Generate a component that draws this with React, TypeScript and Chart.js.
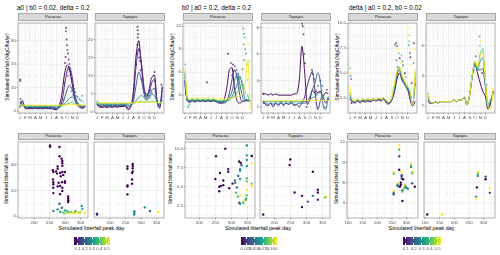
import React, { useEffect, useRef } from "react";
import { Chart, registerables } from "chart.js";
Chart.register(...registerables);

// ---------------- shared axes ----------------
const DAYS = [1, 15, 32, 46, 60, 74, 91, 105, 121, 135, 152, 166, 182, 196, 213, 227, 244, 258, 274, 288, 305, 319, 335, 349, 365, 380];
const MONTH_DAYS = [1, 32, 60, 91, 121, 152, 182, 213, 244, 274, 305, 335];
const MONTH_LABELS = ["J", "F", "M", "A", "M", "J", "J", "A", "S", "O", "N", "D"];
const FACETS = ["Paracou", "Tapajos"];
const TITLES = ["a0 | b0 = 0.02, delta = 0.2", "b0 | a0 = 0.2, delta = 0.2", "delta | a0 = 0.2, b0 = 0.02"];
const Y_TITLE_TOP = "Simulated litterfall (MgC/ha/yr)";
const Y_TITLE_BOT = "Simulated litterfall ratio";
const X_TITLE_BOT = "Simulated litterfall peak day";

// ---------------- panel 1 : a0 ----------------
const P1_LINE_PARAMS = [0.1, 0.15, 0.2, 0.3, 0.4, 0.5];
const P1_PAR_LINES = [
  [1.6, 4.5, 1.2, 1.0, 1.1, 1.0, 1.2, 1.0, 1.1, 1.0, 1.2, 1.0, 1.1, 0.8, 0.6, 2.0, 7.0, 15.0, 19.5, 18.0, 11.0, 5.0, 2.5, 1.5, 1.2, 2.0],
  [1.8, 3.0, 1.4, 1.2, 1.3, 1.2, 1.3, 1.2, 1.3, 1.2, 1.3, 1.2, 1.3, 1.1, 1.0, 1.5, 4.0, 10.0, 17.0, 19.0, 14.0, 7.0, 3.5, 2.0, 1.5, 1.8],
  [2.0, 2.5, 1.6, 1.5, 1.6, 1.5, 1.6, 1.5, 1.6, 1.5, 1.6, 1.5, 1.6, 1.4, 1.3, 1.5, 2.5, 5.0, 9.0, 11.0, 9.0, 6.0, 3.5, 2.2, 1.8, 2.0],
  [2.2, 2.6, 2.0, 1.9, 2.0, 1.9, 2.0, 1.9, 2.0, 1.9, 2.0, 1.9, 2.0, 1.9, 1.8, 1.9, 2.2, 3.0, 4.2, 5.5, 6.0, 5.0, 3.5, 2.5, 2.2, 2.2],
  [2.4, 2.5, 2.3, 2.2, 2.3, 2.2, 2.3, 2.2, 2.3, 2.2, 2.3, 2.2, 2.3, 2.2, 2.2, 2.3, 2.4, 2.7, 3.0, 3.4, 3.6, 3.3, 2.9, 2.6, 2.4, 2.4],
  [2.6, 2.6, 2.5, 2.5, 2.5, 2.5, 2.5, 2.5, 2.5, 2.5, 2.5, 2.5, 2.5, 2.5, 2.5, 2.5, 2.6, 2.6, 2.7, 2.7, 2.8, 2.7, 2.6, 2.6, 2.6, 2.6],
];
const P1_TAP_LINES = [
  [2.0, 1.4, 1.2, 1.4, 1.2, 1.4, 1.3, 1.4, 1.3, 1.5, 1.5, 1.6, 0.6, 1.2, 6.0, 15.0, 19.5, 13.0, 6.0, 4.0, 6.5, 9.5, 10.0, 3.0, 1.0, 7.0],
  [2.1, 1.6, 1.4, 1.6, 1.4, 1.6, 1.5, 1.6, 1.5, 1.7, 1.7, 1.8, 1.0, 1.4, 4.5, 12.0, 17.5, 14.0, 7.0, 4.5, 5.5, 8.0, 9.0, 3.5, 1.5, 6.0],
  [2.2, 1.8, 1.7, 1.8, 1.7, 1.8, 1.7, 1.8, 1.7, 1.9, 1.9, 2.0, 1.5, 1.7, 3.0, 7.0, 11.0, 9.0, 5.0, 3.5, 4.5, 6.0, 6.5, 3.0, 1.8, 4.5],
  [2.3, 2.1, 2.0, 2.1, 2.0, 2.1, 2.0, 2.1, 2.0, 2.1, 2.1, 2.2, 1.9, 2.0, 2.4, 3.0, 4.0, 4.5, 4.0, 3.2, 3.8, 4.8, 4.5, 2.8, 2.2, 3.2],
  [2.4, 2.3, 2.2, 2.3, 2.2, 2.3, 2.2, 2.3, 2.2, 2.3, 2.3, 2.3, 2.2, 2.3, 2.4, 2.6, 2.8, 2.9, 2.8, 2.7, 2.8, 3.0, 2.9, 2.6, 2.4, 2.6],
  [2.6, 2.6, 2.5, 2.5, 2.5, 2.5, 2.5, 2.5, 2.5, 2.5, 2.5, 2.5, 2.5, 2.5, 2.5, 2.6, 2.6, 2.7, 2.7, 2.7, 2.7, 2.7, 2.7, 2.6, 2.6, 2.6],
];
const P1_PAR_POINTS: number[][] = [
  [3, 13.5, 0.1], [3, 12.8, 0.1], [4, 5.2, 0.2], [6, 4.0, 0.3], [8, 3.5, 0.15],
  [262, 20.5, 0.1], [266, 23.0, 0.1], [268, 35.5, 0.1], [268, 34.0, 0.15], [272, 30.5, 0.1],
  [274, 28.0, 0.1], [276, 26.0, 0.15], [280, 24.5, 0.1], [284, 22.0, 0.1], [288, 20.0, 0.15],
  [286, 18.0, 0.2], [292, 17.0, 0.1], [296, 15.5, 0.15], [300, 14.0, 0.1], [304, 12.5, 0.2],
  [310, 11.0, 0.15], [316, 9.5, 0.2], [322, 8.0, 0.2], [300, 8.5, 0.3], [310, 7.0, 0.3],
  [325, 6.5, 0.3], [335, 6.0, 0.25], [345, 5.0, 0.3], [355, 4.5, 0.35], [362, 6.5, 0.3],
  [368, 4.0, 0.4], [250, 5.0, 0.15], [280, 15.0, 0.2], [258, 12.0, 0.1], [200, 1.5, 0.3],
  [120, 2.2, 0.4], [60, 1.8, 0.3], [240, 3.0, 0.2],
];
const P1_TAP_POINTS: number[][] = [
  [236, 23.5, 0.1], [238, 22.5, 0.1], [240, 21.5, 0.1], [238, 20.5, 0.1], [242, 19.5, 0.15],
  [236, 18.5, 0.1], [244, 17.0, 0.15], [232, 16.0, 0.1], [246, 15.0, 0.1], [250, 14.0, 0.15],
  [228, 13.0, 0.1], [335, 11.0, 0.1], [332, 10.0, 0.15], [338, 8.5, 0.1], [375, 7.5, 0.1],
  [380, 6.5, 0.15], [310, 6.0, 0.3], [320, 5.2, 0.3], [290, 5.0, 0.3], [300, 4.5, 0.25],
  [345, 4.0, 0.3], [3, 2.8, 0.3], [5, 2.2, 0.1], [260, 9.0, 0.1], [255, 11.5, 0.1],
];
const P1_BOT_PAR: number[][] = [
  [251.5, 54.8, 0.1], [251.5, 53.8, 0.1], [282, 53.6, 0.1], [282, 46.5, 0.1], [289, 44.5, 0.1],
  [291, 42.8, 0.1], [291, 41, 0.1], [291, 39, 0.1], [276, 38.5, 0.1], [276, 36.7, 0.1],
  [260.7, 35.7, 0.1], [262, 34.2, 0.1], [271, 34.7, 0.1], [291, 34.2, 0.1], [299.5, 34.2, 0.1],
  [284, 33.5, 0.1], [294, 32, 0.1], [286, 31, 0.1], [261, 28.4, 0.1], [299.5, 27.2, 0.1],
  [290, 26.4, 0.1], [279, 25.9, 0.1], [262, 26.4, 0.1], [262, 24.7, 0.1], [284, 23.4, 0.1],
  [276, 23.1, 0.1], [262, 22, 0.1], [291, 22, 0.1], [299.5, 25.9, 0.1], [262, 17.9, 0.1],
  [284, 17.1, 0.1], [310, 15.3, 0.1], [310, 13.8, 0.1], [310, 12.3, 0.1], [310, 11, 0.1],
  [291, 19.6, 0.1], [274, 33, 0.1],
  [282, 9.6, 0.2], [290, 6.5, 0.25], [354, 8, 0.3], [356, 5.8, 0.35], [276, 5.3, 0.3],
  [262, 4, 0.3], [299.5, 4.5, 0.35], [307, 3.8, 0.35], [320, 3.3, 0.4], [333, 3.8, 0.35],
  [345, 2.8, 0.45], [363, 2.8, 0.5], [363, 2.0, 0.5], [330, 2.5, 0.45], [284, 3.3, 0.35],
  [294, 2.8, 0.4], [310, 2.8, 0.4], [340, 3.0, 0.5], [350, 3.2, 0.45], [300, 2.2, 0.45],
  [315, 3.0, 0.45], [325, 2.3, 0.5],
];
const P1_BOT_TAP: number[][] = [
  [157.7, 1.3, 0.1], [157.7, 2.0, 0.15], [256, 38.5, 0.1], [256, 36.7, 0.1], [256, 23.9, 0.1],
  [256, 22.9, 0.1], [256, 16.9, 0.1], [273, 40.5, 0.1], [273, 39, 0.1], [273, 37.2, 0.1],
  [273, 34.7, 0.1], [271, 33.5, 0.1], [271, 28.4, 0.1], [271, 25.2, 0.1], [278, 3.8, 0.3],
  [278, 2.5, 0.3], [278, 1.3, 0.3], [312, 6.8, 0.3], [329, 4, 0.25], [355, 3.3, 0.5],
];

// ---------------- panel 2 : b0 ----------------
const P2_PAR_PARAMS = [0.01, 0.025, 0.04, 0.055, 0.075, 0.1];
const P2_PAR_LINES = [
  [4.8, 2.3, 2.1, 2.3, 2.1, 2.3, 2.2, 2.3, 2.2, 2.3, 2.2, 2.3, 2.2, 2.0, 2.0, 2.3, 4.0, 6.2, 6.6, 4.0, 2.2, 2.0, 2.2, 2.3, 2.3, 2.3],
  [4.3, 2.3, 2.2, 2.3, 2.2, 2.3, 2.2, 2.3, 2.2, 2.3, 2.2, 2.3, 2.2, 2.1, 2.0, 2.0, 2.3, 3.2, 5.0, 6.3, 5.2, 3.0, 2.2, 2.3, 2.3, 2.3],
  [5.0, 2.4, 2.3, 2.4, 2.3, 2.4, 2.3, 2.4, 2.3, 2.4, 2.3, 2.4, 2.3, 2.2, 2.1, 2.1, 2.2, 2.6, 3.5, 4.8, 5.8, 4.5, 2.8, 2.4, 2.4, 2.4],
  [5.5, 2.4, 2.3, 2.4, 2.3, 2.4, 2.3, 2.4, 2.3, 2.4, 2.3, 2.4, 2.3, 2.2, 2.2, 2.2, 2.3, 2.4, 2.8, 3.5, 4.5, 5.5, 4.2, 2.6, 2.4, 2.4],
  [6.0, 2.5, 2.4, 2.5, 2.4, 2.5, 2.4, 2.5, 2.4, 2.5, 2.4, 2.5, 2.4, 2.3, 2.3, 2.3, 2.4, 2.5, 2.6, 2.9, 3.4, 4.0, 4.6, 3.5, 3.0, 2.0],
  [6.6, 2.7, 2.5, 2.7, 2.5, 2.7, 2.5, 2.7, 2.5, 2.7, 2.5, 2.7, 2.5, 2.5, 2.5, 2.5, 2.5, 2.6, 2.6, 2.7, 2.8, 3.0, 3.3, 4.2, 7.6, 1.2],
];
const P2_TAP_PARAMS = [0.01, 0.02, 0.04, 0.06, 0.1];
const P2_TAP_LINES = [
  [3.0, 3.0, 2.9, 3.0, 2.9, 3.0, 2.9, 2.9, 2.9, 2.9, 2.9, 2.9, 3.0, 3.0, 4.2, 6.6, 4.5, 2.2, 2.6, 3.3, 3.0, 3.1, 3.2, 2.8, 3.1, 3.0],
  [2.4, 2.2, 2.1, 2.3, 2.0, 2.3, 2.1, 2.4, 2.1, 2.3, 2.2, 2.4, 2.1, 2.2, 2.0, 2.3, 2.8, 3.6, 4.3, 4.7, 3.0, 1.8, 2.5, 2.8, 2.3, 2.6],
  [2.4, 2.3, 2.2, 2.3, 2.2, 2.3, 2.2, 2.3, 2.2, 2.3, 2.2, 2.3, 2.2, 2.2, 2.3, 2.3, 2.3, 2.4, 2.8, 3.3, 3.9, 4.6, 3.8, 2.2, 1.8, 2.8],
  [2.4, 2.4, 2.4, 2.4, 2.4, 2.4, 2.4, 2.4, 2.4, 2.4, 2.4, 2.4, 2.4, 2.4, 2.4, 2.4, 2.4, 2.5, 2.6, 2.7, 2.8, 3.0, 3.1, 2.7, 2.5, 2.5],
  [2.5, 2.5, 2.45, 2.5, 2.45, 2.5, 2.45, 2.5, 2.45, 2.5, 2.45, 2.5, 2.45, 2.5, 2.45, 2.5, 2.5, 2.5, 2.5, 2.5, 2.5, 2.5, 2.5, 2.5, 2.5, 2.5],
];
const P2_PAR_POINTS: number[][] = [
  [2, 7.0, 0.075], [3, 5.7, 0.055], [4, 5.3, 0.06], [3, 4.8, 0.01], [5, 4.4, 0.02],
  [6, 3.2, 0.04], [20, 1.5, 0.055], [25, 1.8, 0.075], [130, 4.7, 0.01], [252, 8.4, 0.01],
  [268, 7.2, 0.02], [280, 7.0, 0.01], [290, 6.8, 0.025], [285, 6.2, 0.02], [300, 6.3, 0.03],
  [310, 5.8, 0.04], [305, 5.3, 0.035], [275, 5.6, 0.01], [320, 5.2, 0.05], [330, 4.8, 0.055],
  [340, 11.7, 0.06], [343, 11.0, 0.055], [347, 10.5, 0.065], [342, 9.6, 0.06], [350, 9.0, 0.07],
  [355, 8.4, 0.06], [345, 7.6, 0.05], [360, 7.0, 0.075], [368, 9.7, 0.1], [372, 7.5, 0.09],
  [365, 5.0, 0.08], [335, 6.4, 0.045],
];
const P2_TAP_POINTS: number[][] = [
  [228, 8.3, 0.01], [232, 8.1, 0.01], [236, 7.5, 0.01], [240, 6.0, 0.02], [245, 5.3, 0.01],
  [285, 4.8, 0.02], [290, 4.5, 0.02], [300, 4.1, 0.03], [320, 3.6, 0.04], [335, 4.0, 0.04],
  [345, 3.6, 0.03], [360, 2.0, 0.04], [372, 3.3, 0.02], [378, 2.6, 0.01], [3, 3.0, 0.01],
  [6, 2.3, 0.02], [255, 2.0, 0.02], [310, 3.2, 0.01],
];
const P2_BOT_PAR: number[][] = [
  [251.7, 9.0, 0.01], [280.7, 9.96, 0.01], [264, 6.8, 0.01], [249.7, 6.0, 0.01], [274.5, 5.8, 0.01],
  [262, 5.0, 0.01], [267, 5.1, 0.01], [274.5, 5.2, 0.01], [262, 4.4, 0.01], [290, 7.3, 0.01],
  [290, 6.95, 0.01], [293, 4.8, 0.01], [303.5, 5.4, 0.015], [324, 8.3, 0.01], [329, 8.1, 0.01],
  [310.7, 5.8, 0.05], [311.8, 5.5, 0.045], [317, 4.9, 0.05], [321, 6.4, 0.04], [327, 7.3, 0.055],
  [327, 7.1, 0.05], [331.5, 7.8, 0.045], [327, 6.0, 0.06], [348, 10.4, 0.05], [348, 9.1, 0.06],
  [348, 8.5, 0.055], [348, 7.7, 0.06], [314.8, 4.2, 0.075], [320, 3.7, 0.07], [348, 6.1, 0.075],
  [348, 5.7, 0.08], [348, 3.9, 0.075], [363.5, 9.1, 0.075], [363.5, 5.4, 0.08], [336.6, 2.9, 0.07],
  [327, 3.9, 0.1], [348, 4.6, 0.1], [363.5, 8.05, 0.1], [363.5, 5.1, 0.1], [339.7, 3.2, 0.1],
  [324, 2.9, 0.04], [327, 2.75, 0.05], [345, 3.3, 0.06], [346, 3.5, 0.08], [363.5, 9.0, 0.01],
];
const P2_BOT_TAP: number[][] = [
  [165, 1.36, 0.01], [249.7, 8.56, 0.01], [247.6, 7.84, 0.01], [263, 4.24, 0.01], [286, 3.8, 0.01],
  [286, 2.33, 0.01], [304.5, 3.05, 0.04], [320, 3.8, 0.05], [320, 6.95, 0.01], [335.6, 4.6, 0.01],
  [335.6, 4.24, 0.01], [335.6, 3.3, 0.015], [361.5, 3.7, 0.1], [358, 3.6, 0.08],
];

// ---------------- panel 3 : delta ----------------
const P3_LINE_PARAMS = [0.1, 0.2, 0.3, 0.4, 0.5];
const P3_PAR_LINES = [
  [2.4, 2.1, 2.0, 2.2, 2.0, 2.2, 2.1, 2.2, 2.1, 2.3, 2.2, 2.3, 2.2, 2.4, 2.0, 1.9, 2.3, 3.0, 4.4, 5.0, 4.2, 4.0, 3.6, 2.4, 1.7, 2.2],
  [2.6, 2.2, 2.1, 2.3, 2.1, 2.3, 2.2, 2.3, 2.2, 2.4, 2.3, 2.4, 2.3, 2.5, 2.1, 2.0, 2.4, 3.3, 4.8, 5.3, 4.3, 3.8, 3.3, 2.8, 1.9, 4.0],
  [2.8, 2.2, 2.2, 2.3, 2.2, 2.3, 2.3, 2.4, 2.3, 2.4, 2.3, 2.4, 2.4, 2.5, 2.2, 2.0, 2.5, 3.5, 5.0, 5.5, 4.5, 4.0, 3.5, 3.0, 1.9, 4.6],
  [3.1, 2.3, 2.2, 2.4, 2.2, 2.4, 2.3, 2.4, 2.3, 2.4, 2.3, 2.5, 2.4, 2.5, 2.2, 2.1, 2.6, 3.7, 5.1, 5.6, 4.6, 4.1, 3.6, 3.2, 1.8, 5.1],
  [3.5, 2.3, 2.2, 2.4, 2.2, 2.4, 2.3, 2.4, 2.3, 2.4, 2.3, 2.5, 2.4, 2.5, 2.3, 2.1, 2.6, 3.8, 5.2, 5.6, 4.7, 4.2, 3.7, 3.3, 1.8, 5.5],
];
const P3_TAP_LINES = [
  [2.3, 2.2, 2.2, 2.3, 2.2, 2.3, 2.3, 2.3, 2.3, 2.3, 2.4, 2.3, 2.4, 2.4, 2.6, 2.1, 2.8, 4.0, 4.8, 4.2, 3.5, 3.0, 2.6, 1.8, 2.2, 3.0],
  [2.4, 2.2, 2.2, 2.3, 2.2, 2.3, 2.3, 2.3, 2.3, 2.3, 2.4, 2.3, 2.4, 2.4, 2.6, 2.1, 2.8, 4.0, 4.9, 4.4, 4.4, 4.5, 3.2, 1.9, 2.3, 3.0],
  [2.5, 2.3, 2.2, 2.3, 2.2, 2.3, 2.3, 2.3, 2.3, 2.3, 2.4, 2.3, 2.4, 2.4, 2.6, 2.1, 2.8, 4.0, 4.9, 4.4, 5.0, 5.2, 3.5, 2.0, 2.4, 2.8],
  [2.7, 2.3, 2.2, 2.3, 2.2, 2.3, 2.3, 2.3, 2.3, 2.3, 2.4, 2.3, 2.4, 2.4, 2.6, 2.1, 2.8, 4.0, 4.9, 4.5, 5.5, 5.7, 3.7, 2.0, 2.5, 2.7],
  [2.8, 2.3, 2.2, 2.3, 2.2, 2.3, 2.3, 2.3, 2.3, 2.3, 2.4, 2.3, 2.4, 2.4, 2.6, 2.1, 2.8, 4.1, 5.0, 4.6, 5.3, 5.5, 3.6, 2.0, 1.8, 3.2],
];
const P3_PAR_POINTS: number[][] = [
  [3, 5.5, 0.4], [5, 5.0, 0.5], [5, 4.7, 0.3], [8, 4.4, 0.2], [3, 3.6, 0.5], [10, 2.0, 0.1],
  [262, 7.8, 0.3], [268, 8.0, 0.1], [275, 7.7, 0.2], [280, 7.4, 0.5], [285, 7.0, 0.4],
  [290, 6.5, 0.1], [270, 6.3, 0.3], [295, 6.0, 0.5], [300, 6.8, 0.4], [305, 6.2, 0.3],
  [310, 5.8, 0.2], [320, 5.0, 0.1], [325, 4.6, 0.4], [278, 5.6, 0.2],
  [340, 9.6, 0.5], [342, 8.8, 0.45], [345, 8.2, 0.4], [343, 7.8, 0.3], [348, 7.0, 0.2],
  [352, 6.6, 0.1], [355, 5.8, 0.5], [372, 8.0, 0.1], [375, 7.4, 0.5], [370, 6.0, 0.3], [360, 4.0, 0.1],
];
const P3_TAP_POINTS: number[][] = [
  [300, 6.6, 0.3], [305, 6.3, 0.5], [302, 6.0, 0.4], [318, 5.8, 0.4], [290, 5.5, 0.5],
  [280, 5.3, 0.2], [285, 4.6, 0.1], [315, 4.2, 0.1], [328, 4.0, 0.2], [340, 3.4, 0.3],
  [350, 2.2, 0.4], [268, 4.4, 0.3], [3, 2.8, 0.4], [5, 2.6, 0.2], [355, 1.9, 0.5], [372, 3.2, 0.5],
];
const P3_BOT_PAR: number[][] = [
  [274.4, 11.5, 0.5], [274.4, 10.9, 0.4], [274.4, 9.9, 0.2], [315, 8.8, 0.5], [315, 8.5, 0.4],
  [315, 8.3, 0.3], [274.4, 7.9, 0.1], [283, 7.6, 0.5], [283, 7.1, 0.2], [283, 6.9, 0.2],
  [283, 6.6, 0.2], [255.7, 7.6, 0.5], [255.7, 7.3, 0.4], [318.6, 7.7, 0.5], [318.6, 7.4, 0.4],
  [287.7, 6.5, 0.1], [280, 6.0, 0.1], [269, 5.8, 0.5], [269, 5.7, 0.3], [269, 5.5, 0.2],
  [280, 5.65, 0.1], [276.6, 5.4, 0.1], [294, 5.7, 0.5], [294, 5.5, 0.4], [291, 5.2, 0.4],
  [298.7, 5.3, 0.2], [318.6, 5.9, 0.2], [327.5, 5.4, 0.1], [304, 5.1, 0.3], [285.5, 4.9, 0.3],
  [285.5, 4.65, 0.4], [255.7, 4.75, 0.5], [255.7, 4.5, 0.3], [255.7, 4.3, 0.2], [285.5, 3.3, 0.1],
];
const P3_BOT_TAP: number[][] = [
  [107.7, 1.3, 0.1], [158.5, 1.3, 0.5], [276.6, 5.3, 0.1], [274.4, 3.95, 0.3], [274.4, 3.66, 0.5],
  [280, 7.6, 0.5], [280, 7.3, 0.4], [280, 7.0, 0.3], [306.5, 6.9, 0.2], [306.5, 6.5, 0.1],
  [320.8, 5.2, 0.5], [320.8, 4.5, 0.2],
];

// ---------------- tick labels ----------------
const P1_PAR_YTICKS = [0, 10, 20, 30];
const P1_TAP_YTICKS = [0, 5, 10, 15, 20];
const P2_PAR_YTICKS = [3, 6, 9, 12];
const P2_TAP_YTICKS = [2, 4, 6, 8];
const P3_PAR_YTICKS = [2.5, 5, 7.5, 10];
const P3_PAR_YLABELS = ["2.5", "5.0", "7.5", "10.0"];
const P3_TAP_YTICKS = [2, 4, 6];
const BOT12_XTICKS = [200, 250, 300, 350];
const BOT3_XTICKS = [100, 150, 200, 250, 300];
const P1_BOT_YTICKS = [0, 20, 40];
const P2_BOT_YTICKS = [2.5, 5, 7.5, 10];
const P2_BOT_YLABELS = ["2.5", "5.0", "7.5", "10.0"];
const P3_BOT_YTICKS = [3, 6, 9, 12];
const CB1_VALUES = [0.1, 0.2, 0.3, 0.4, 0.5];
const CB1_LABELS = ["0.1", "0.2", "0.3", "0.4", "0.5"];
const CB2_VALUES = [0.025, 0.05, 0.075, 0.1];
const CB2_LABELS = ["0.025", "0.050", "0.075", "0.100"];

// ---------------- style helpers ----------------
const FONT = '"Liberation Sans", Arial, Helvetica, sans-serif';
const VIRIDIS = ["#440154", "#472d7b", "#3b528b", "#2c728e", "#21918c", "#28ae80", "#5ec962", "#addc30", "#fde725"];
function hexRgb(h: string) {
  return [parseInt(h.slice(1, 3), 16), parseInt(h.slice(3, 5), 16), parseInt(h.slice(5, 7), 16)];
}
function viridis(t: number, a = 1) {
  const tt = Math.max(0, Math.min(1, t)) * (VIRIDIS.length - 1);
  const i = Math.min(VIRIDIS.length - 2, Math.floor(tt));
  const f = tt - i;
  const c0 = hexRgb(VIRIDIS[i]), c1 = hexRgb(VIRIDIS[i + 1]);
  const c = c0.map((v, k) => Math.round(v + (c1[k] - v) * f));
  return `rgba(${c[0]},${c[1]},${c[2]},${a})`;
}
function mids(ticks: number[], min: number, max: number) {
  const out: number[] = [];
  const s0 = ticks[1] - ticks[0];
  const sN = ticks[ticks.length - 1] - ticks[ticks.length - 2];
  out.push(ticks[0] - s0 / 2);
  for (let i = 0; i < ticks.length - 1; i++) out.push((ticks[i] + ticks[i + 1]) / 2);
  out.push(ticks[ticks.length - 1] + sN / 2);
  return out.filter((v) => v > min && v < max);
}
const fmt = (arr: number[]) => arr.map((v) => String(v));

interface Spec {
  l: number; t: number; w: number; h: number;
  xMin: number; xMax: number; yMin: number; yMax: number;
  xTicks: number[]; xLabels: string[];
  yTicks: number[]; yLabels: string[] | null;
  lines: number[][] | null; lineParams: number[] | null;
  points: number[][];
  cMin: number; cMax: number;
  pr: number; pa: number;
}

const PAD = { l: 13, r: 3, t: 2, b: 8 };
const TOP_T = 21, TOP_H = 92, BOT_T = 140, BOT_H = 78;
const TX = { xMin: -10, xMax: 390, xTicks: MONTH_DAYS, xLabels: MONTH_LABELS };

const SPECS: Spec[] = [
  { l: 18, t: TOP_T, w: 70, h: TOP_H, ...TX, yMin: -0.8, yMax: 37.5, yTicks: P1_PAR_YTICKS, yLabels: fmt(P1_PAR_YTICKS), lines: P1_PAR_LINES, lineParams: P1_LINE_PARAMS, points: P1_PAR_POINTS, cMin: 0.1, cMax: 0.5, pr: 1.0, pa: 0.7 },
  { l: 95, t: TOP_T, w: 70, h: TOP_H, ...TX, yMin: -0.3, yMax: 24.5, yTicks: P1_TAP_YTICKS, yLabels: fmt(P1_TAP_YTICKS), lines: P1_TAP_LINES, lineParams: P1_LINE_PARAMS, points: P1_TAP_POINTS, cMin: 0.1, cMax: 0.5, pr: 1.0, pa: 0.7 },
  { l: 183, t: TOP_T, w: 70, h: TOP_H, ...TX, yMin: 0.7, yMax: 12.4, yTicks: P2_PAR_YTICKS, yLabels: fmt(P2_PAR_YTICKS), lines: P2_PAR_LINES, lineParams: P2_PAR_PARAMS, points: P2_PAR_POINTS, cMin: 0.01, cMax: 0.1, pr: 1.0, pa: 0.7 },
  { l: 261, t: TOP_T, w: 70, h: TOP_H, ...TX, yMin: 1.55, yMax: 8.35, yTicks: P2_TAP_YTICKS, yLabels: fmt(P2_TAP_YTICKS), lines: P2_TAP_LINES, lineParams: P2_TAP_PARAMS, points: P2_TAP_POINTS, cMin: 0.01, cMax: 0.1, pr: 1.0, pa: 0.7 },
  { l: 348, t: TOP_T, w: 70, h: TOP_H, ...TX, yMin: 1.0, yMax: 10.03, yTicks: P3_PAR_YTICKS, yLabels: P3_PAR_YLABELS, lines: P3_PAR_LINES, lineParams: P3_LINE_PARAMS, points: P3_PAR_POINTS, cMin: 0.1, cMax: 0.5, pr: 1.0, pa: 0.7 },
  { l: 426, t: TOP_T, w: 70, h: TOP_H, ...TX, yMin: 1.55, yMax: 7.5, yTicks: P3_TAP_YTICKS, yLabels: fmt(P3_TAP_YTICKS), lines: P3_TAP_LINES, lineParams: P3_LINE_PARAMS, points: P3_TAP_POINTS, cMin: 0.1, cMax: 0.5, pr: 1.0, pa: 0.7 },
  { l: 18, t: BOT_T, w: 71, h: BOT_H, xMin: 148, xMax: 374, xTicks: BOT12_XTICKS, xLabels: fmt(BOT12_XTICKS), yMin: -1.4, yMax: 57.5, yTicks: P1_BOT_YTICKS, yLabels: fmt(P1_BOT_YTICKS), lines: null, lineParams: null, points: P1_BOT_PAR, cMin: 0.1, cMax: 0.5, pr: 1.2, pa: 1 },
  { l: 94, t: BOT_T, w: 71, h: BOT_H, xMin: 148, xMax: 374, xTicks: BOT12_XTICKS, xLabels: fmt(BOT12_XTICKS), yMin: -1.4, yMax: 57.5, yTicks: P1_BOT_YTICKS, yLabels: null, lines: null, lineParams: null, points: P1_BOT_TAP, cMin: 0.1, cMax: 0.5, pr: 1.2, pa: 1 },
  { l: 185, t: BOT_T, w: 71, h: BOT_H, xMin: 155, xMax: 373.5, xTicks: BOT12_XTICKS, xLabels: fmt(BOT12_XTICKS), yMin: 0.9, yMax: 10.85, yTicks: P2_BOT_YTICKS, yLabels: P2_BOT_YLABELS, lines: null, lineParams: null, points: P2_BOT_PAR, cMin: 0.01, cMax: 0.1, pr: 1.2, pa: 1 },
  { l: 260, t: BOT_T, w: 71, h: BOT_H, xMin: 155, xMax: 373.5, xTicks: BOT12_XTICKS, xLabels: fmt(BOT12_XTICKS), yMin: 0.9, yMax: 10.85, yTicks: P2_BOT_YTICKS, yLabels: null, lines: null, lineParams: null, points: P2_BOT_TAP, cMin: 0.01, cMax: 0.1, pr: 1.2, pa: 1 },
  { l: 347, t: BOT_T, w: 72, h: BOT_H, xMin: 96.7, xMax: 338.5, xTicks: BOT3_XTICKS, xLabels: fmt(BOT3_XTICKS), yMin: 0.79, yMax: 12.0, yTicks: P3_BOT_YTICKS, yLabels: fmt(P3_BOT_YTICKS), lines: null, lineParams: null, points: P3_BOT_PAR, cMin: 0.1, cMax: 0.5, pr: 1.2, pa: 1 },
  { l: 424, t: BOT_T, w: 72, h: BOT_H, xMin: 96.7, xMax: 338.5, xTicks: BOT3_XTICKS, xLabels: fmt(BOT3_XTICKS), yMin: 0.79, yMax: 12.0, yTicks: P3_BOT_YTICKS, yLabels: null, lines: null, lineParams: null, points: P3_BOT_TAP, cMin: 0.1, cMax: 0.5, pr: 1.2, pa: 1 },
];

function makeDecor(s: Spec) {
  const xMinor = mids(s.xTicks, s.xMin, s.xMax);
  const yMinor = mids(s.yTicks, s.yMin, s.yMax);
  return {
    id: "decor",
    beforeDatasetsDraw(chart: any) {
      const { ctx, chartArea: a, scales } = chart;
      const xs = scales.x, ys = scales.y;
      ctx.save();
      ctx.fillStyle = "#ffffff";
      ctx.fillRect(a.left, a.top, a.right - a.left, a.bottom - a.top);
      ctx.strokeStyle = "#ebebeb";
      const vl = (v: number) => { const p = xs.getPixelForValue(v); ctx.beginPath(); ctx.moveTo(p, a.top); ctx.lineTo(p, a.bottom); ctx.stroke(); };
      const hl = (v: number) => { const p = ys.getPixelForValue(v); ctx.beginPath(); ctx.moveTo(a.left, p); ctx.lineTo(a.right, p); ctx.stroke(); };
      ctx.lineWidth = 0.4;
      xMinor.forEach(vl); yMinor.forEach(hl);
      ctx.lineWidth = 0.8;
      s.xTicks.forEach(vl); s.yTicks.forEach(hl);
      ctx.restore();
    },
    afterDatasetsDraw(chart: any) {
      const { ctx, chartArea: a, scales } = chart;
      const xs = scales.x, ys = scales.y;
      ctx.save();
      ctx.strokeStyle = "#8c8c8c";
      ctx.lineWidth = 0.7;
      ctx.strokeRect(a.left, a.top, a.right - a.left, a.bottom - a.top);
      ctx.strokeStyle = "#555";
      ctx.lineWidth = 0.5;
      ctx.fillStyle = "#4d4d4d";
      ctx.font = `4.3px ${FONT}`;
      ctx.textAlign = "center";
      ctx.textBaseline = "top";
      s.xTicks.forEach((v, i) => {
        const p = xs.getPixelForValue(v);
        ctx.beginPath(); ctx.moveTo(p, a.bottom); ctx.lineTo(p, a.bottom + 1.5); ctx.stroke();
        ctx.fillText(s.xLabels[i], p, a.bottom + 2.2);
      });
      if (s.yLabels) {
        ctx.textAlign = "right";
        ctx.textBaseline = "middle";
        s.yTicks.forEach((v, i) => {
          const p = ys.getPixelForValue(v);
          ctx.beginPath(); ctx.moveTo(a.left - 1.5, p); ctx.lineTo(a.left, p); ctx.stroke();
          ctx.fillText(s.yLabels![i], a.left - 2.2, p);
        });
      }
      ctx.restore();
    },
  };
}

function FacetChart({ s }: { s: Spec }) {
  const ref = useRef<HTMLCanvasElement>(null);
  const cw = s.w + PAD.l + PAD.r;
  const ch = s.h + PAD.t + PAD.b;
  useEffect(() => {
    const canvas = ref.current;
    if (!canvas) return;
    const norm = (c: number) => (c - s.cMin) / (s.cMax - s.cMin);
    const datasets: any[] = [];
    datasets.push({
      data: s.points.map((p) => ({ x: p[0], y: p[1] })),
      showLine: false,
      pointRadius: s.pr,
      pointBorderWidth: 0,
      pointBackgroundColor: s.points.map((p) => viridis(norm(p[2]), s.pa)),
      pointBorderColor: "rgba(0,0,0,0)",
      order: 1000,
    });
    if (s.lines && s.lineParams) {
      const n = s.lines.length;
      s.lines.forEach((ys, i) => {
        datasets.push({
          data: DAYS.map((d, k) => ({ x: d, y: ys[k] })),
          borderColor: viridis(norm(s.lineParams![i]), 0.95),
          borderWidth: 1.0,
          pointRadius: 0,
          fill: false,
          cubicInterpolationMode: "monotone",
          order: n - i,
        });
      });
    }
    const chart = new Chart(canvas, {
      type: "line",
      data: { datasets },
      options: {
        responsive: false,
        animation: false,
        events: [],
        layout: { padding: { left: PAD.l, right: PAD.r, top: PAD.t, bottom: PAD.b } },
        plugins: { legend: { display: false }, tooltip: { enabled: false } },
        scales: {
          x: { type: "linear", min: s.xMin, max: s.xMax, display: false },
          y: { type: "linear", min: s.yMin, max: s.yMax, display: false },
        },
      } as any,
      plugins: [makeDecor(s)],
    });
    return () => chart.destroy();
  }, [s]);
  return (
    <canvas
      ref={ref}
      width={cw}
      height={ch}
      style={{ position: "absolute", left: s.l - PAD.l, top: s.t - PAD.t, width: cw, height: ch }}
    />
  );
}

function Strip({ l, t, w, h, text }: { l: number; t: number; w: number; h: number; text: string }) {
  return (
    <div
      style={{
        position: "absolute", left: l, top: t, width: w, height: h, boxSizing: "border-box",
        background: "#d9d9d9", border: "1px solid #a6a6a6", font: `4.3px ${FONT}`, color: "#1a1a1a",
        display: "flex", alignItems: "center", justifyContent: "center", lineHeight: 1,
      }}
    >
      {text}
    </div>
  );
}

function Txt({ x, y, text, size, rot, color, left }: { x: number; y: number; text: string; size: number; rot?: boolean; color?: string; left?: boolean }) {
  return (
    <div
      style={{
        position: "absolute", left: x, top: y, whiteSpace: "nowrap", font: `${size}px ${FONT}`,
        color: color || "#000", lineHeight: 1,
        transform: left ? "translate(0,-50%)" : rot ? "translate(-50%,-50%) rotate(-90deg)" : "translate(-50%,-50%)",
      }}
    >
      {text}
    </div>
  );
}

function ColorBar({ l, t, w, h, d0, d1, values, labels }: { l: number; t: number; w: number; h: number; d0: number; d1: number; values: number[]; labels: string[] }) {
  return (
    <>
      <div style={{ position: "absolute", left: l, top: t, width: w, height: h, background: `linear-gradient(to right, ${VIRIDIS.join(",")})` }} />
      {values.map((v, i) => {
        const x = l + ((v - d0) / (d1 - d0)) * w;
        return (
          <React.Fragment key={i}>
            <div style={{ position: "absolute", left: x - 0.3, top: t, width: 0.6, height: 1.6, background: "#fff" }} />
            <div style={{ position: "absolute", left: x - 0.3, top: t + h - 1.6, width: 0.6, height: 1.6, background: "#fff" }} />
            <Txt x={x} y={t + h + 3.5} text={labels[i]} size={4.3} color="#4d4d4d" />
          </React.Fragment>
        );
      })}
    </>
  );
}

export default function App() {
  const titleX = [17, 182, 349];
  const yTitleTopX = [7, 172, 337];
  const yTitleBotX = [6, 170, 336];
  return (
    <div style={{ position: "fixed", left: 0, top: 0, width: 500, height: 255, background: "#fff", overflow: "hidden" }}>
      {TITLES.map((t, i) => (
        <Txt key={"t" + i} x={titleX[i]} y={7.5} text={t} size={6.4} left />
      ))}
      {yTitleTopX.map((x, i) => (
        <Txt key={"yt" + i} x={x} y={67} text={Y_TITLE_TOP} size={5.0} rot />
      ))}
      {yTitleBotX.map((x, i) => (
        <Txt key={"yb" + i} x={x} y={179} text={Y_TITLE_BOT} size={5.0} rot />
      ))}
      {[91.5, 258, 421.5].map((x, i) => (
        <Txt key={"xb" + i} x={x} y={228.5} text={X_TITLE_BOT} size={5.4} />
      ))}
      {SPECS.map((s, i) => (
        <Strip key={"s" + i} l={s.l} t={i < 6 ? s.t - 8 : s.t - 7} w={s.w} h={i < 6 ? 8 : 7} text={FACETS[i % 2]} />
      ))}
      {SPECS.map((s, i) => (
        <FacetChart key={"c" + i} s={s} />
      ))}
      <ColorBar l={74} t={237} w={36} h={8} d0={0.053} d1={0.546} values={CB1_VALUES} labels={CB1_LABELS} />
      <ColorBar l={241} t={237} w={36} h={8} d0={0.0106} d1={0.1144} values={CB2_VALUES} labels={CB2_LABELS} />
      <ColorBar l={403} t={237} w={38} h={8} d0={0.066} d1={0.543} values={CB1_VALUES} labels={CB1_LABELS} />
    </div>
  );
}
